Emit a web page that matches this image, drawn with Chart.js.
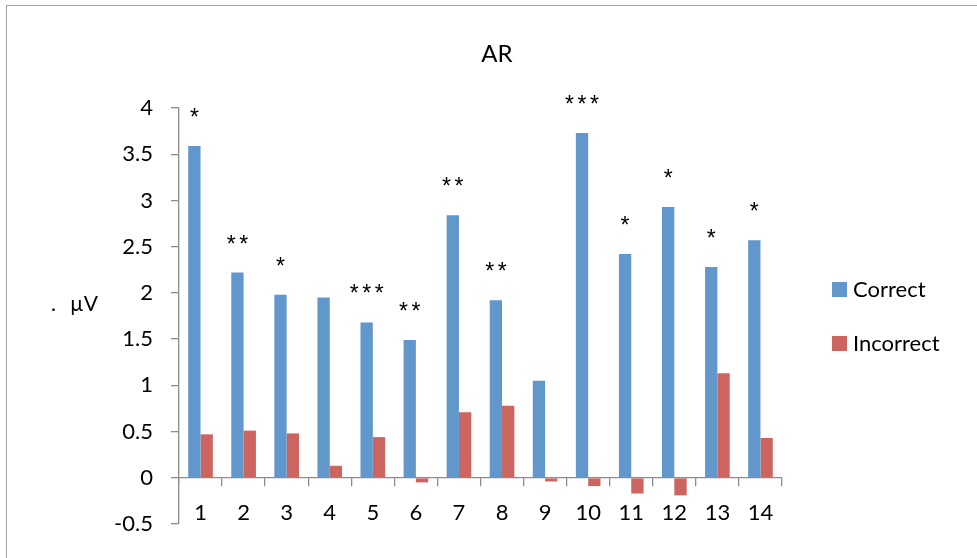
<!DOCTYPE html>
<html>
<head>
<meta charset="utf-8">
<title>AR</title>
<script src="https://cdn.jsdelivr.net/npm/chart.js@4"></script>
<style>
  html, body { margin: 0; padding: 0; background: #fff; overflow: hidden; }
  #wrap { position: relative; width: 977px; height: 558px; }
  #frame { position: absolute; left: 6px; top: 5px; width: 1200px; height: 800px;
           border-left: 1.5px solid #a0a0a0; border-top: 1.5px solid #a0a0a0; pointer-events: none; }
  canvas { position: absolute; left: 0; top: 0; }
</style>
</head>
<body>
<div id="wrap">
  <div id="frame"></div>
  <canvas id="c" width="977" height="558"></canvas>
</div>
<script>
// Electrode sites 1–14
const categories = ['1', '2', '3', '4', '5', '6', '7', '8', '9', '10', '11', '12', '13', '14'];
// Mean amplitude (µV) per site
const correctValues = [3.59, 2.22, 1.98, 1.95, 1.68, 1.49, 2.84, 1.92, 1.05, 3.73, 2.42, 2.93, 2.28, 2.57];
const incorrectValues = [0.47, 0.51, 0.48, 0.13, 0.44, -0.05, 0.71, 0.78, -0.04, -0.09, -0.17, -0.19, 1.13, 0.43];
// Significance markers above the Correct bars
const significance = ['*', '**', '*', '', '***', '**', '**', '**', '', '***', '*', '*', '*', '*'];
const yTicks = [-0.5, 0, 0.5, 1, 1.5, 2, 2.5, 3, 3.5, 4];

const FONT = 'Lato, "Liberation Sans", sans-serif';
const STAR_FONT = '"Liberation Sans", Arial, sans-serif';
const BLUE = '#6197cb';
const RED = '#cc6560';
const AXIS = '#8c8c8c';

// Title, y-axis unit label, legend and significance stars
const decorations = {
  id: 'decorations',
  afterDatasetsDraw(chart) {
    const ctx = chart.ctx;
    ctx.save();
    ctx.fillStyle = '#000';

    // title
    ctx.font = '24px ' + FONT;
    ctx.textAlign = 'center';
    ctx.textBaseline = 'alphabetic';
    ctx.fillText('AR', 497, 62);

    // unit label
    ctx.font = '21px ' + FONT;
    ctx.textAlign = 'left';
    ctx.fillText('.', 51, 311);
    ctx.fillText('µV', 70, 311);

    // stars over the Correct bars
    const meta = chart.getDatasetMeta(0);
    ctx.font = '23px ' + STAR_FONT;
    ctx.textAlign = 'left';
    ctx.textBaseline = 'alphabetic';
    const starStep = 12.5;
    meta.data.forEach((bar, i) => {
      const s = significance[i];
      if (!s) return;
      const top = Math.min(bar.y, bar.base);
      const glyphW = ctx.measureText('*').width;
      const total = (s.length - 1) * starStep + glyphW;
      const x = bar.x - total / 2;
      for (let k = 0; k < s.length; k++) {
        ctx.fillText('*', x + k * starStep, top - 21);
      }
    });

    // legend
    ctx.font = '22px ' + FONT;
    ctx.textAlign = 'left';
    ctx.textBaseline = 'middle';
    chart.data.datasets.forEach((ds, i) => {
      const y = 282 + i * 54;
      ctx.fillStyle = ds.backgroundColor;
      ctx.fillRect(832, y, 15, 15);
      ctx.fillStyle = '#000';
      ctx.fillText(ds.label, 853, y + 8);
    });
    ctx.restore();
  }
};

new Chart(document.getElementById('c'), {
  type: 'bar',
  data: {
    labels: categories,
    datasets: [
      { label: 'Correct', data: correctValues, backgroundColor: BLUE },
      { label: 'Incorrect', data: incorrectValues, backgroundColor: RED }
    ]
  },
  options: {
    responsive: false,
    animation: false,
    events: [],
    layout: { padding: { left: 0, right: 195, top: 108, bottom: 34 } },
    datasets: { bar: { categoryPercentage: 0.572, barPercentage: 1.0 } },
    plugins: { legend: { display: false }, title: { display: false }, tooltip: { enabled: false } },
    scales: {
      x: {
        position: { y: 0 },
        offset: true,
        grid: { offset: true, drawOnChartArea: false, drawTicks: true, tickLength: 8, color: AXIS, lineWidth: 1.3 },
        border: { display: true, color: AXIS, width: 1.3 },
        ticks: { color: '#000', font: { family: FONT, size: 22 }, padding: 14, maxRotation: 0 }
      },
      y: {
        min: -0.5,
        max: 4,
        afterFit(scale) { scale.width = 179; },
        afterBuildTicks(scale) { scale.ticks = yTicks.map(v => ({ value: v })); },
        grid: { drawOnChartArea: false, drawTicks: true, tickLength: 8, color: AXIS, lineWidth: 1.3 },
        border: { display: true, color: AXIS, width: 1.3 },
        ticks: { color: '#000', font: { family: FONT, size: 22 }, padding: 18, callback: v => String(v) }
      }
    }
  },
  plugins: [decorations]
});
</script>
</body>
</html>
